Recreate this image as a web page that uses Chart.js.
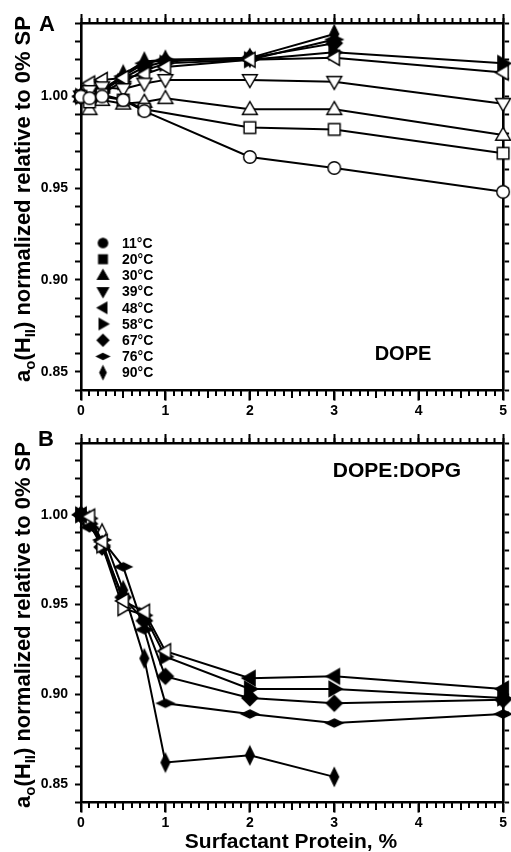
<!DOCTYPE html>
<html>
<head>
<meta charset="utf-8">
<script src="https://cdn.jsdelivr.net/npm/chart.js@4.4.1/dist/chart.umd.min.js"></script>
<style>
html, body { margin: 0; padding: 0; background: #fff; }
canvas { display: block; }
</style>
</head>
<body>
<canvas id="chartA" width="511" height="426"></canvas>
<canvas id="chartB" width="511" height="426"></canvas>
<script>
// surfactant protein, % (x positions)
const xA = [0, 0.1, 0.25, 0.5, 0.75, 1, 2, 3, 5];
const xB = [0, 0.1, 0.25, 0.5, 0.75, 1, 2, 3, 5];
const tempLabels = ['11°C', '20°C', '30°C', '39°C', '48°C', '58°C', '67°C', '76°C', '90°C'];
const xTickLabels = [0, 1, 2, 3, 4, 5];
const yTickLabels = [0.85, 0.90, 0.95, 1.00];

// panel A - DOPE
const a11 = [1.000, 0.999, 1.000, 0.998, 0.992, null, 0.967, 0.961, 0.948];
const a20 = [1.000, 0.997, 1.001, 0.998, 0.993, null, 0.983, 0.982, 0.969];
const a30 = [1.000, 0.993, 0.998, 0.996, 0.997, 0.999, 0.993, 0.993, 0.979];
const a39 = [1.000, 1.003, 1.005, 1.004, 1.007, 1.009, 1.009, 1.008, 0.996];
const a48 = [1.000, 1.007, 1.009, 1.010, 1.012, 1.016, 1.020, 1.021, 1.013];
const a58 = [1.000, 0.999, 1.002, 1.008, 1.014, 1.018, 1.020, 1.024, 1.018];
const a67 = [1.000, 0.998, 1.003, 1.010, 1.016, 1.019, 1.021, 1.029, null];
const a76 = [1.000, 1.000, 1.004, 1.011, 1.018, 1.020, 1.020, 1.031, null];
const a90 = [1.000, 0.996, 1.002, 1.012, 1.019, 1.020, 1.021, 1.034, null];

// panel B - DOPE:DOPG
const b48 = [1.000, 0.999, 0.985, 0.952, 0.946, 0.924, 0.909, 0.910, 0.903];
const b58 = [1.000, 0.998, 0.983, 0.948, 0.944, 0.921, 0.903, 0.903, 0.898];
const b67 = [1.000, 0.995, 0.982, 0.954, 0.941, 0.910, 0.898, 0.895, 0.897];
const b76 = [1.000, 0.993, 0.986, 0.971, 0.936, 0.895, 0.889, 0.884, 0.889];
const b90 = [1.000, 0.997, 0.990, 0.958, 0.920, 0.862, 0.866, 0.854, null];

const FONT = '"Liberation Sans", Arial, Helvetica, sans-serif';
Chart.defaults.font.family = FONT;
Chart.defaults.color = '#000';

const shapes = ['circle', 'square', 'triUp', 'triDown', 'triLeft', 'triRight', 'diamond', 'flatDiamond', 'thinDiamond'];

// little canvases used as point styles
function marker(shape, open, k) {
  k = k || 1.12;
  const c = document.createElement('canvas');
  c.width = c.height = Math.ceil(19 * k);
  const g = c.getContext('2d');
  g.translate(c.width / 2, c.height / 2);
  g.scale(k, k);
  g.beginPath();
  if (shape == 'circle') {
    g.arc(0, 0, 5.6, 0, Math.PI * 2);
  } else if (shape == 'square') {
    g.rect(-5.2, -5.2, 10.4, 10.4);
  } else if (shape.indexOf('tri') == 0) {
    const rot = {triUp: 0, triRight: 90, triDown: 180, triLeft: 270}[shape];
    g.rotate(rot * Math.PI / 180);
    g.moveTo(0, -6.8); g.lineTo(6.6, 4.6); g.lineTo(-6.6, 4.6); g.closePath();
  } else {
    let w = 7, h = 7;
    if (shape == 'flatDiamond') { w = 7.5; h = 3.6; }
    if (shape == 'thinDiamond') { w = 3.8; h = 7.8; }
    g.moveTo(0, -h); g.lineTo(w, 0); g.lineTo(0, h); g.lineTo(-w, 0); g.closePath();
  }
  g.fillStyle = open ? '#fff' : '#000';
  g.fill();
  g.lineWidth = 1.3;
  g.strokeStyle = '#000';
  g.stroke();
  return c;
}

function makeSet(label, shape, xs, ys, openFlags) {
  return {
    label: label,
    shape: shape,
    data: xs.map((x, i) => ({x: x, y: ys[i]})),
    pointStyle: xs.map((x, i) => marker(shape, openFlags[i])),
    pointRadius: 6,
    borderColor: '#000',
    borderWidth: 2,
    showLine: true,
    spanGaps: true,
    fill: false,
    tension: 0,
    clip: false,
    xAxisID: 'x',
    yAxisID: 'y'
  };
}

const allOpen = xA.map(() => true);
const allFilled = xA.map(() => false);

const setsA = [
  makeSet(tempLabels[0], shapes[0], xA, a11, allOpen),
  makeSet(tempLabels[1], shapes[1], xA, a20, allOpen),
  makeSet(tempLabels[2], shapes[2], xA, a30, allOpen),
  makeSet(tempLabels[3], shapes[3], xA, a39, allOpen),
  makeSet(tempLabels[4], shapes[4], xA, a48, allOpen),
  makeSet(tempLabels[5], shapes[5], xA, a58, allFilled),
  makeSet(tempLabels[6], shapes[6], xA, a67, allFilled),
  makeSet(tempLabels[7], shapes[7], xA, a76, allFilled),
  makeSet(tempLabels[8], shapes[8], xA, a90, allFilled)
];

const setsB = [
  makeSet(tempLabels[4], shapes[4], xB, b48, [false, true, true, true, true, true, false, false, false]),
  makeSet(tempLabels[5], shapes[5], xB, b58, [false, true, true, true, false, false, false, false, false]),
  makeSet(tempLabels[6], shapes[6], xB, b67, allFilled),
  makeSet(tempLabels[7], shapes[7], xB, b76, allFilled),
  makeSet(tempLabels[8], shapes[8], xB, b90, [false, true, true, false, false, false, false, false, false])
];

// bottom axis sits on y = 0.84, top axes are zero-height boxes above the plot
function xAxis(pos, step, len, labels, border) {
  const ax = {
    type: 'linear', axis: 'x', position: pos, min: 0, max: 5,
    ticks: {
      display: labels, stepSize: step, autoSkip: false, maxRotation: 0, padding: 4,
      font: {size: 14, weight: 'bold'}, color: '#000',
      callback: v => xTickLabels.indexOf(Math.round(v * 10) / 10) >= 0 ? String(Math.round(v)) : ''
    },
    grid: {drawOnChartArea: false, tickLength: len, tickWidth: 2, tickColor: '#000'},
    border: {display: border, color: '#000', width: 2.6}
  };
  if (pos == 'top') ax.afterFit = s => { s.height = 0; };
  return ax;
}

function yAxis(pos, labels, w) {
  return {
    type: 'linear', position: pos, min: 0.84, max: 1.04,
    ticks: {
      display: labels, stepSize: 0.01, autoSkip: false, padding: 7,
      font: {size: 14, weight: 'bold'}, color: '#000',
      callback: function (v) {
        const r = Math.round(v * 100) / 100;
        return yTickLabels.indexOf(r) >= 0 ? r.toFixed(2) : '';
      }
    },
    grid: {drawOnChartArea: false, tickLength: 6, tickWidth: 2, tickColor: '#000'},
    border: {display: true, color: '#000', width: 2.6},
    afterFit: s => { s.width = w; }
  };
}

// tick marks under the bottom axis, placed with the x scale (filled rects)
function bottomTicks(chart) {
  const ctx = chart.ctx;
  const xs = chart.scales.x;
  const y0 = Math.round(chart.scales.y.getPixelForValue(0.84)) + 1;
  ctx.save();
  ctx.setTransform(1, 0, 0, 1, 0, 0);
  ctx.globalAlpha = 1;
  ctx.globalCompositeOperation = 'source-over';
  ctx.setLineDash([]);
  ctx.fillStyle = '#000';
  for (let i = 0; i <= 50; i++) {
    const px = Math.round(xs.getPixelForValue(i / 10));
    const len = i % 10 == 0 ? 9 : (i % 5 == 0 ? 7 : 5);
    ctx.fillRect(px - 1, y0, 2, len);
  }
  ctx.restore();
}

function drawYTitle(ctx, bx, cy) {
  const big = 'bold 22px ' + FONT;
  const small = 'bold 15px ' + FONT;
  const parts = [['a', big, 0], ['o', small, 5], ['(H', big, 0], ['II', small, 5],
                 [') normalized relative to 0% SP', big, 0]];
  ctx.save();
  ctx.translate(bx, cy);
  ctx.rotate(-Math.PI / 2);
  let total = 0;
  parts.forEach(p => { ctx.font = p[1]; total += ctx.measureText(p[0]).width; });
  let x = -total / 2;
  ctx.fillStyle = '#000';
  ctx.textBaseline = 'alphabetic';
  ctx.textAlign = 'left';
  parts.forEach(p => { ctx.font = p[1]; ctx.fillText(p[0], x, p[2]); x += ctx.measureText(p[0]).width; });
  ctx.restore();
}

function text(ctx, s, x, y, size, align) {
  ctx.save();
  ctx.font = 'bold ' + size + 'px ' + FONT;
  ctx.fillStyle = '#000';
  ctx.textAlign = align || 'center';
  ctx.textBaseline = 'middle';
  ctx.fillText(s, x, y);
  ctx.restore();
}

const decoA = {
  id: 'decoA',
  afterDraw(chart) {
    const ctx = chart.ctx;
    drawYTitle(ctx, 30, 199);
    text(ctx, 'A', 47, 25, 22);
    text(ctx, 'DOPE', 403, 354, 20);
    // legend
    chart.data.datasets.forEach((ds, i) => {
      const y = 243 + i * 16.2;
      const m = marker(ds.shape, false, 0.85);
      ctx.drawImage(m, 103 - m.width / 2, y - m.height / 2);
      text(ctx, ds.label, 122, y + 1, 14, 'left');
    });
    bottomTicks(chart);
  }
};

const decoB = {
  id: 'decoB',
  afterDraw(chart) {
    const ctx = chart.ctx;
    drawYTitle(ctx, 30, 199);
    text(ctx, 'B', 46, 14, 22);
    text(ctx, 'DOPE:DOPG', 397, 45, 21);
    text(ctx, 'Surfactant Protein, %', 291, 416, 21);
    bottomTicks(chart);
  }
};

function makeChart(id, sets, padTop, bottomH, deco) {
  return new Chart(document.getElementById(id), {
    type: 'line',
    data: {datasets: sets},
    options: {
      responsive: false,
      animation: false,
      devicePixelRatio: 1,
      events: [],
      layout: {autoPadding: false, padding: {left: 0, right: 7, top: padTop, bottom: bottomH}},
      plugins: {legend: {display: false}, tooltip: {enabled: false}},
      scales: {
        x: xAxis({y: 0.84}, 1, 9, true, true),
        xt: xAxis('top', 1, 9, false, true),
        xtm: xAxis('top', 0.1, 5, false, false),
        y: yAxis('left', true, 81),
        yr: yAxis('right', false, 0)
      }
    },
    plugins: [deco]
  });
}

makeChart('chartA', setsA, 23, 426 - 390, decoA);
makeChart('chartB', setsB, 17, 426 - 376, decoB);
</script>
</body>
</html>
